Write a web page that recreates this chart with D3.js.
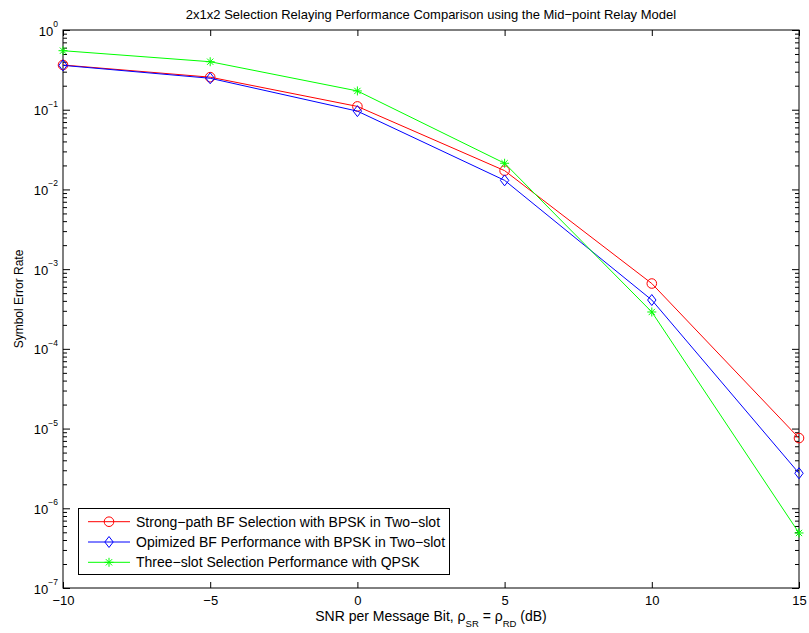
<!DOCTYPE html>
<html>
<head>
<meta charset="utf-8">
<script src="https://cdn.jsdelivr.net/npm/d3@7"></script>
<style>
  html, body { margin: 0; padding: 0; background: #fff; }
  svg { display: block; font-family: "Liberation Sans", Arial, Helvetica, sans-serif; }
</style>
</head>
<body>
<svg id="chart" width="809" height="633"></svg>
<script>
// SNR points (dB)
const snr = [-10, -5, 0, 5, 10, 15];

// Symbol error rate for each scheme
const serStrongPath = [0.364, 0.256, 0.110, 0.0172, 6.6e-4, 7.6e-6];
const serOptimized  = [0.360, 0.248, 0.096, 0.0130, 4.1e-4, 2.75e-6];
const serThreeSlot  = [0.55, 0.40, 0.172, 0.0213, 2.9e-4, 4.9e-7];

const seriesNames = [
  "Strong\u2212path BF Selection with BPSK in Two\u2212slot",
  "Opimized BF Performance with BPSK in Two\u2212slot",
  "Three\u2212slot Selection Performance with QPSK"
];
const seriesColors = ["#ff0000", "#0000ff", "#00ff00"];
const seriesMarkers = ["circle", "diamond", "star"];

const xTicks = [-10, -5, 0, 5, 10, 15];
const yExponents = [0, -1, -2, -3, -4, -5, -6, -7];

const titleText = "2x1x2 Selection Relaying Performance Comparison using the Mid\u2212point Relay Model";
const yLabelText = "Symbol Error Rate";

const svg = d3.select("#chart");
const L = 63, R = 799, T = 30, B = 588;

const x = d3.scaleLinear().domain([-10, 15]).range([L, R]);
const y = d3.scaleLog().domain([1e-7, 1]).range([B, T]);

const majors = yExponents.map(e => Math.pow(10, e));
const minors = [];
for (let e = -7; e < 0; e++) for (let m = 2; m <= 9; m++) minors.push(m * Math.pow(10, e));

function styleAxis(g) {
  g.selectAll(".domain").remove();
  g.selectAll("line").attr("stroke", "#000").attr("stroke-width", 1);
  g.selectAll("text").attr("fill", "#000").attr("font-size", 13).attr("font-family", null);
}

// x axes (bottom with labels, top ticks only)
svg.append("g").attr("transform", `translate(0,${B})`)
  .call(d3.axisBottom(x).tickValues(xTicks).tickSizeInner(-6).tickSizeOuter(0).tickPadding(8)
    .tickFormat(d => d < 0 ? "\u2212" + Math.abs(d) : String(d)))
  .call(styleAxis);
svg.append("g").attr("transform", `translate(0,${T})`)
  .call(d3.axisTop(x).tickValues(xTicks).tickSizeInner(-6).tickSizeOuter(0).tickFormat(""))
  .call(styleAxis);

// y axes: major + minor ticks on both sides
svg.append("g").attr("transform", `translate(${L},0)`)
  .call(d3.axisLeft(y).tickValues(majors).tickSizeInner(-7).tickSizeOuter(0).tickFormat(""))
  .call(styleAxis);
svg.append("g").attr("transform", `translate(${L},0)`)
  .call(d3.axisLeft(y).tickValues(minors).tickSizeInner(-4).tickSizeOuter(0).tickFormat(""))
  .call(styleAxis);
svg.append("g").attr("transform", `translate(${R},0)`)
  .call(d3.axisRight(y).tickValues(majors).tickSizeInner(-7).tickSizeOuter(0).tickFormat(""))
  .call(styleAxis);
svg.append("g").attr("transform", `translate(${R},0)`)
  .call(d3.axisRight(y).tickValues(minors).tickSizeInner(-4).tickSizeOuter(0).tickFormat(""))
  .call(styleAxis);

// y tick labels as 10^n
const yLab = svg.append("g").attr("font-size", 13).attr("fill", "#000");
yExponents.forEach(e => {
  const t = yLab.append("text").attr("x", L - 5).attr("y", y(Math.pow(10, e)) + 5.5)
    .attr("text-anchor", "end");
  t.append("tspan").text("10");
  t.append("tspan").attr("dy", -8.5).attr("font-size", 8.5)
    .text(e < 0 ? "\u2212" + Math.abs(e) : String(e));
});

// frame
svg.append("rect").attr("x", L).attr("y", T).attr("width", R - L).attr("height", B - T)
  .attr("fill", "none").attr("stroke", "#000").attr("stroke-width", 1);

// marker drawing
function drawMarker(g, type, cx, cy, color) {
  if (type === "circle") {
    g.append("circle").attr("cx", cx).attr("cy", cy).attr("r", 4.8)
      .attr("fill", "none").attr("stroke", color).attr("stroke-width", 1);
  } else if (type === "diamond") {
    g.append("path").attr("d", `M${cx},${cy - 5.5}L${cx + 4.2},${cy}L${cx},${cy + 5.5}L${cx - 4.2},${cy}Z`)
      .attr("fill", "none").attr("stroke", color).attr("stroke-width", 1);
  } else {
    const r = 4.5, d = r * 0.7;
    g.append("path")
      .attr("d", `M${cx - r},${cy}L${cx + r},${cy}M${cx},${cy - r}L${cx},${cy + r}` +
        `M${cx - d},${cy - d}L${cx + d},${cy + d}M${cx - d},${cy + d}L${cx + d},${cy - d}`)
      .attr("fill", "none").attr("stroke", color).attr("stroke-width", 1);
  }
}

const allSeries = [serStrongPath, serOptimized, serThreeSlot];
const line = d3.line().x(d => x(d[0])).y(d => y(d[1]));
const plot = svg.append("g");
allSeries.forEach((vals, i) => {
  const pts = snr.map((s, k) => [s, vals[k]]);
  plot.append("path").attr("d", line(pts)).attr("fill", "none")
    .attr("stroke", seriesColors[i]).attr("stroke-width", 1);
  pts.forEach(p => drawMarker(plot, seriesMarkers[i], x(p[0]), y(p[1]), seriesColors[i]));
});

// legend
const lg = svg.append("g");
lg.append("rect").attr("x", 78.5).attr("y", 508.5).attr("width", 371).attr("height", 66)
  .attr("fill", "#fff").attr("stroke", "#000").attr("stroke-width", 1);
seriesNames.forEach((name, i) => {
  const cy = 521.7 + i * 20.3;
  lg.append("line").attr("x1", 88).attr("x2", 130).attr("y1", cy).attr("y2", cy)
    .attr("stroke", seriesColors[i]).attr("stroke-width", 1);
  drawMarker(lg, seriesMarkers[i], 109, cy, seriesColors[i]);
  lg.append("text").attr("x", 136).attr("y", cy + 5).attr("font-size", 14).attr("fill", "#000").text(name);
});

// title
svg.append("text").attr("x", (L + R) / 2).attr("y", 19).attr("text-anchor", "middle")
  .attr("font-size", 13).attr("fill", "#000").text(titleText);

// x label with subscripts
const xl = svg.append("text").attr("x", (L + R) / 2).attr("y", 621).attr("text-anchor", "middle")
  .attr("font-size", 14).attr("fill", "#000");
xl.append("tspan").text("SNR per Message Bit, \u03c1");
xl.append("tspan").attr("dy", 6).attr("font-size", 9.5).text("SR");
xl.append("tspan").attr("dy", -6).text(" = \u03c1");
xl.append("tspan").attr("dy", 6).attr("font-size", 9.5).text("RD");
xl.append("tspan").attr("dy", -6).text(" (dB)");

// y label
svg.append("text").attr("transform", `translate(23,299) rotate(-90)`)
  .attr("text-anchor", "middle").attr("font-size", 12).attr("fill", "#000").text(yLabelText);
</script>
</body>
</html>
